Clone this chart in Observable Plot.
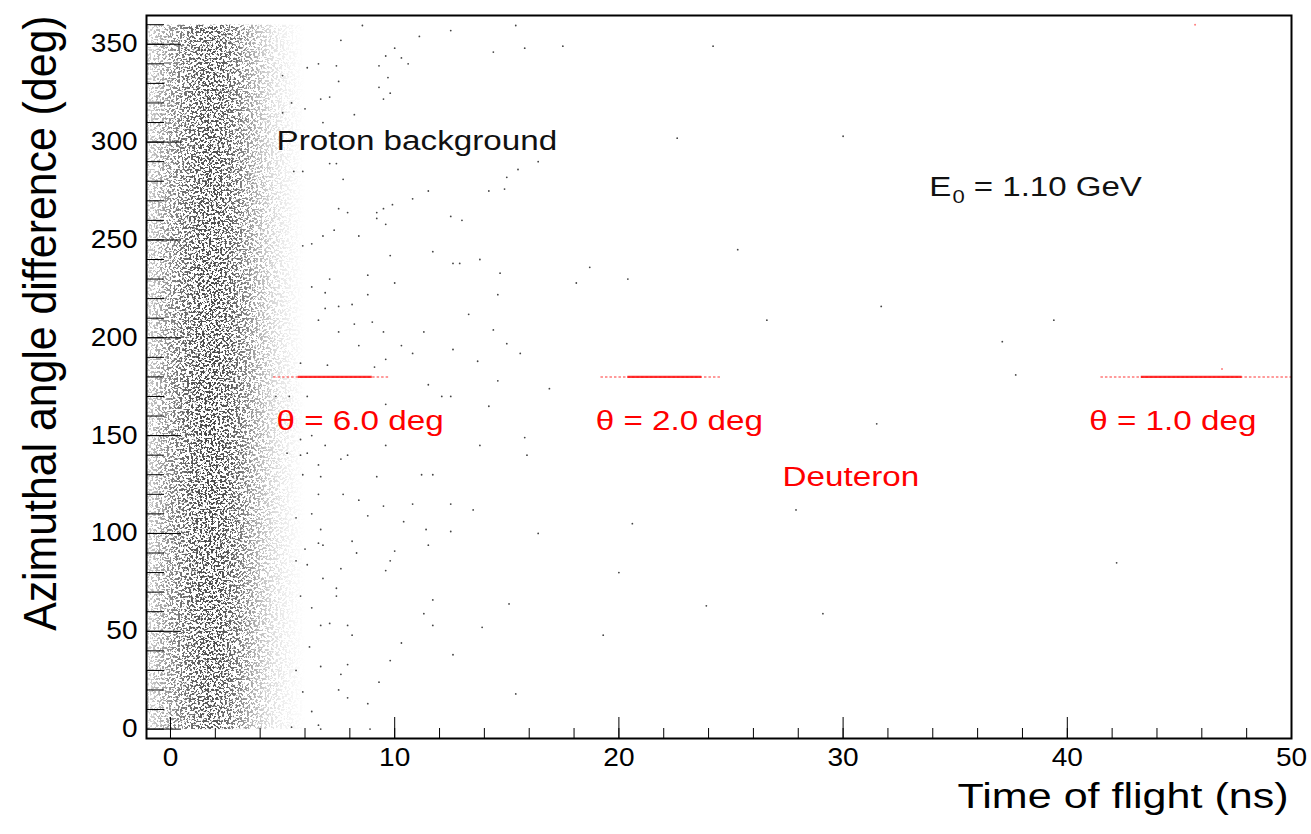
<!DOCTYPE html>
<html><head><meta charset="utf-8">
<script src="https://cdn.jsdelivr.net/npm/d3@7"></script>
<script src="https://cdn.jsdelivr.net/npm/@observablehq/plot@0.6"></script>
<style>body{margin:0;background:#fff} svg{display:block}</style>
</head><body>
<script>
// ---------- data ----------
// proton background: estimated relative point density (rows = phi samples, cols = TOF samples)
const bgGridTof = [-1.0,-0.5,0,0.5,1.0,1.5,2.0,2.5,3.0,3.5,4.0,4.5,5.0,5.5,6.0];
const bgGridPhi = [0,30,60,90,120,150,180,210,240,270,300,330,360];
const bgDensity = [
 [0.20,0.38,0.55,0.68,0.80,0.88,0.90,0.80,0.64,0.45,0.28,0.15,0.08,0.04,0],
 [0.24,0.44,0.62,0.76,0.87,0.95,0.97,0.88,0.73,0.53,0.35,0.20,0.11,0.05,0],
 [0.25,0.45,0.63,0.77,0.89,0.96,0.98,0.90,0.75,0.57,0.37,0.21,0.11,0.05,0],
 [0.26,0.46,0.64,0.79,0.91,0.97,1.00,0.92,0.77,0.58,0.38,0.22,0.12,0.05,0],
 [0.27,0.47,0.66,0.80,0.92,0.99,1.00,0.93,0.79,0.60,0.40,0.23,0.12,0.05,0],
 [0.27,0.48,0.66,0.80,0.93,1.00,1.00,0.94,0.81,0.62,0.42,0.24,0.13,0.06,0],
 [0.27,0.48,0.67,0.81,0.93,1.00,1.00,0.94,0.81,0.62,0.42,0.25,0.13,0.06,0],
 [0.26,0.47,0.66,0.80,0.92,0.99,1.00,0.93,0.80,0.61,0.41,0.24,0.13,0.06,0],
 [0.26,0.46,0.64,0.79,0.91,0.98,0.99,0.92,0.78,0.59,0.40,0.23,0.12,0.05,0],
 [0.25,0.45,0.63,0.77,0.89,0.96,0.97,0.90,0.76,0.57,0.38,0.22,0.12,0.05,0],
 [0.25,0.44,0.62,0.76,0.88,0.95,0.96,0.89,0.75,0.56,0.37,0.21,0.11,0.05,0],
 [0.24,0.43,0.61,0.75,0.87,0.94,0.95,0.88,0.73,0.54,0.36,0.20,0.11,0.05,0],
 [0.22,0.40,0.57,0.71,0.83,0.90,0.92,0.84,0.69,0.50,0.32,0.18,0.09,0.04,0]
];
// individually visible background events (time of flight ns, azimuthal difference deg)
const sparseTof = [24.2,22.6,30.0,25.3,20.4,31.7,26.6,39.4,37.1,37.7,31.5,27.9,20.6,20.0,42.2,23.9,29.1,19.3,
 8.56,15.4,12.5,11.1,7.6,17.5,15.8,14.4,10.0,10.3,9.6,10.6,9.3,7.4,6.6,6.1,9.7,7.5,5.0,9.3,9.8,9.5,6.7,7.1,8.2,6.0,5.4,5.0,6.8,
 16.4,7.1,7.4,5.5,5.9,7.7,15.0,15.5,14.2,14.9,11.5,10.8,9.9,9.5,7.5,7.9,9.2,9.2,12.5,13.0,9.6,8.4,6.8,7.3,5.9,6.3,11.7,9.8,12.6,12.9,13.8,18.7,14.7,8.8,10.0,18.1,6.3,7.1,8.8,6.9,14.6,8.1,7.5,6.9,13.3,6.6,9.0,8.2,11.3,14.4,9.5,7.5,8.4,10.3,10.8,12.6,15.0,15.6,13.7,9.6,9.1,7.0,5.8,
 14.6,16.9,11.5,12.1,12.5,14.2,9.6,15.8,13.8,15.9,9.6,7.9,11.2,11.7,9.2,7.7,8.4,9.5,10.8,12.5,13.5,8.8,10.4,11.4,12.5,16.4,8.1,8.3,10.0,11.5,9.8,7.6,9.6,7.4,7.4,11.7,15.1,11.3,11.7,13.9,7.9,7.1,8.1,10.3,12.6,9.8,7.9,7.6,9.3,15.4,7.5,7.9,8.8,8.9,6.7,5.4,6.6,6.3,5.9,5.6,6.7,6.2,6.7,6.3,5.8,6.8,6.1,5.6,6.8,6.6,6.0,6.7,5.6,6.3,6.7,5.9,6.6,6.6,7.6,5.8,6.1,5.2,6.9,5.8,6.3,6.1,5.3,4.7];
const sparsePhi = [349,302,303,245,230,216,209,209,198,181,156,112,105,80,85,63,59,48,
 359.6,359.6,357,354,352,349,348,346,348,343,344,340,339,339,340,338,333,331,334,328,325,322,322,323,314,317,320,315,310,
 290,289,289,285,285,281,282,286,275,276,275,271,268,266,266,264,264,261,262,260,258,252,252,255,247,248,244,242,238,238,240,236,233,232,228,228,226,230,222,223,222,217,216,215,212,209,208,207,203,204,203,203,196,196,192,194,197,192,188,189,185,186,187,
 178,174,176,170,170,165,166,149,145,140,145,140,130,130,129,120,117,114,115,115,112,109,106,102,101,100,96,90,91,94,86,82,81,72,68,66,64,59,53,52,53,54,48,44,38,35,33,28,24,18,20,16,13,0,0,1,2,9,19,30,32,42,53,62,68,77,84,86,94,95,92,102,108,110,129,130,120,135,138,140,141,141,145,148,150,170,170,170];
// deuteron bands (azimuthal difference 180 deg)
const bandLabels = ["\u03b8 = 6.0 deg", "\u03b8 = 2.0 deg", "\u03b8 = 1.0 deg"];
const bandPhi = [180, 180, 180];
const bandLo = [4.6, 19.2, 41.5];
const bandHi = [9.8, 24.6, 50.0];
const coreLo = [5.7, 20.4, 43.3];
const coreHi = [9.0, 23.7, 47.8];
const strayRedTof = [45.7, 46.9];
const strayRedPhi = [360, 184];
// ticks and texts
const xMajor = [0,10,20,30,40,50];
const xMinor = [0,2,4,6,8,10,12,14,16,18,20,22,24,26,28,30,32,34,36,38,40,42,44,46,48,50];
const yMajor = [0,50,100,150,200,250,300,350];
const yMinor = [0,10,20,30,40,50,60,70,80,90,100,110,120,130,140,150,160,170,180,190,200,210,220,230,240,250,260,270,280,290,300,310,320,330,340,350,360];
const xTitle = "Time of flight (ns)";
const yTitle = "Azimuthal angle difference (deg)";
const protonLabel = "Proton background";
const energyLabel = "E0 = 1.10 GeV";
const deuteronLabel = "Deuteron";

// ---------- build ----------
const cells = [];
bgGridPhi.forEach((phi, j) => bgGridTof.forEach((tof, i) => cells.push({tof, phi, v: bgDensity[j][i]})));
const sparse = sparseTof.map((t, i) => ({tof: t, phi: sparsePhi[i]}));
const stray = strayRedTof.map((t, i) => ({tof: t, phi: strayRedPhi[i]}));
const idx = d3.range(bandLabels.length);
const labelAt = [4.73, 18.97, 40.98];

const chart = Plot.plot({
  width: 1311, height: 834,
  marginLeft: 146, marginRight: 20, marginTop: 15, marginBottom: 96,
  style: {fontFamily: "'Liberation Sans', Arial, Helvetica, sans-serif", background: "#fff", color: "#000"},
  x: {domain: [-1.07, 50]},
  y: {domain: [-4.8, 364.7]},
  marks: [
    Plot.raster(cells, {x: "tof", y: "phi", fill: "#000", fillOpacity: "v", interpolate: "barycentric", x1: -1.07, x2: 6, y1: 0, y2: 360, className: "bgcloud"}),
    Plot.dot(sparse, {x: "tof", y: "phi", r: 0.9, fill: "#444", stroke: "none"}),
    Plot.ruleY(idx, {y: i => bandPhi[i], x1: i => bandLo[i], x2: i => bandHi[i], stroke: "#ff2020", strokeWidth: 1.5, strokeDasharray: "2.5,2", strokeOpacity: 0.6}),
    Plot.ruleY(idx, {y: i => bandPhi[i], x1: i => coreLo[i], x2: i => coreHi[i], stroke: "#ff1010", strokeWidth: 2.2, strokeDasharray: i => i === 2 ? "4,1.5" : "14,1", strokeOpacity: 0.85}),
    Plot.dot(stray, {x: "tof", y: "phi", r: 1.0, fill: "red", fillOpacity: 0.5, stroke: "none"}),
    Plot.text(idx, {x: i => labelAt[i], y: i => bandPhi[i], text: i => bandLabels[i], dy: 44, textAnchor: "start", fontSize: 27, fill: "red", className: "annot"}),
    Plot.text([deuteronLabel], {x: 27.3, y: 128.8, text: d => d, textAnchor: "start", fontSize: 27, fill: "red", className: "annot"}),
    Plot.text([protonLabel], {x: 4.73, y: 300.5, text: d => d, textAnchor: "start", fontSize: 27, fill: "#111", className: "annot"}),
    Plot.text([energyLabel], {x: 33.84, y: 277, text: d => d, textAnchor: "start", fontSize: 27, fill: "#111", className: "energy"}),
    Plot.axisY(yMinor, {anchor: "right", frameAnchor: "left", tickSize: 17, fill: "none", label: null, stroke: "#000"}),
    Plot.axisY(yMajor, {anchor: "right", frameAnchor: "left", tickSize: 34, fill: "none", label: null, stroke: "#000"}),
    Plot.axisX(xMinor, {anchor: "top", frameAnchor: "bottom", tickSize: 11, fill: "none", label: null, stroke: "#000"}),
    Plot.axisX(xMajor, {anchor: "top", frameAnchor: "bottom", tickSize: 22, fill: "none", label: null, stroke: "#000"}),
    Plot.axisY(yMajor, {anchor: "left", tickSize: 0, tickPadding: 9, stroke: "none", label: null, fontSize: 25, fill: "#000", tickFormat: d => String(d)}),
    Plot.axisX(xMajor, {anchor: "bottom", tickSize: 0, tickPadding: 10, stroke: "none", label: null, fontSize: 25, fill: "#000", tickFormat: d => String(d)}),
    Plot.text([xTitle], {frameAnchor: "bottom-right", dx: -3, dy: 69, text: d => d, textAnchor: "end", fontSize: 35, fill: "#000", className: "annot"}),
    Plot.text([yTitle], {frameAnchor: "top-left", dx: -106, dy: 0, rotate: -90, text: d => d, textAnchor: "end", lineAnchor: "middle", fontSize: 42.8, fill: "#000", className: "ytitle"}),
    Plot.frame({stroke: "#000", strokeWidth: 2})
  ]
});
document.body.appendChild(chart);

// ---------- styling post-process: grain texture for the dense proton cloud ----------
const svg = chart;
const ns = "http://www.w3.org/2000/svg";
const defs = document.createElementNS(ns, "defs");
defs.innerHTML = `
<filter id="grain" filterUnits="userSpaceOnUse" x="0" y="0" width="1311" height="834" color-interpolation-filters="sRGB">
  <feTurbulence type="fractalNoise" baseFrequency="0.45" numOctaves="2" seed="11" result="noise"/>
  <feColorMatrix in="noise" type="matrix" values="0 0 0 0 0  0 0 0 0 0  0 0 0 0 0  20 0 0 0 -10.1" result="mask"/>
  <feComposite in="SourceGraphic" in2="mask" operator="in" result="dots"/>
  <feColorMatrix in="dots" type="matrix" values="0 0 0 0 0.25  0 0 0 0 0.25  0 0 0 0 0.25  0 0 0 0.95 0"/>
</filter>`;
svg.insertBefore(defs, svg.firstChild);
const cloud = svg.querySelector("g.bgcloud") || svg.querySelector('[aria-label="raster"]');
if (cloud) cloud.setAttribute("filter", "url(#grain)");

// E0 subscript
const et = svg.querySelector("g.energy text");
if (et) {
  et.textContent = "";
  const a = document.createElementNS(ns, "tspan"); a.textContent = "E"; et.appendChild(a);
  const b = document.createElementNS(ns, "tspan"); b.textContent = "0"; b.setAttribute("font-size", "18"); b.setAttribute("dy", "7"); b.setAttribute("dx", "1"); et.appendChild(b);
  const c = document.createElementNS(ns, "tspan"); c.textContent = " = 1.10 GeV"; c.setAttribute("dy", "-7"); et.appendChild(c);
}
// horizontal stretch of the ROOT-style lettering
svg.querySelectorAll("text").forEach(t => {
  if (t.closest("g.ytitle")) return;
  const tick = t.closest('[aria-label$="tick label"]');
  const s = tick ? 1.12 : 1.23;
  const L = t.getComputedTextLength();
  if (L > 0) { t.setAttribute("textLength", (L * s).toFixed(1)); t.setAttribute("lengthAdjust", "spacingAndGlyphs"); }
});
const yt = svg.querySelector("g.ytitle text");
if (yt && yt.getAttribute("transform")) yt.setAttribute("transform", yt.getAttribute("transform") + " scale(1,1.1)");
</script>
</body></html>
